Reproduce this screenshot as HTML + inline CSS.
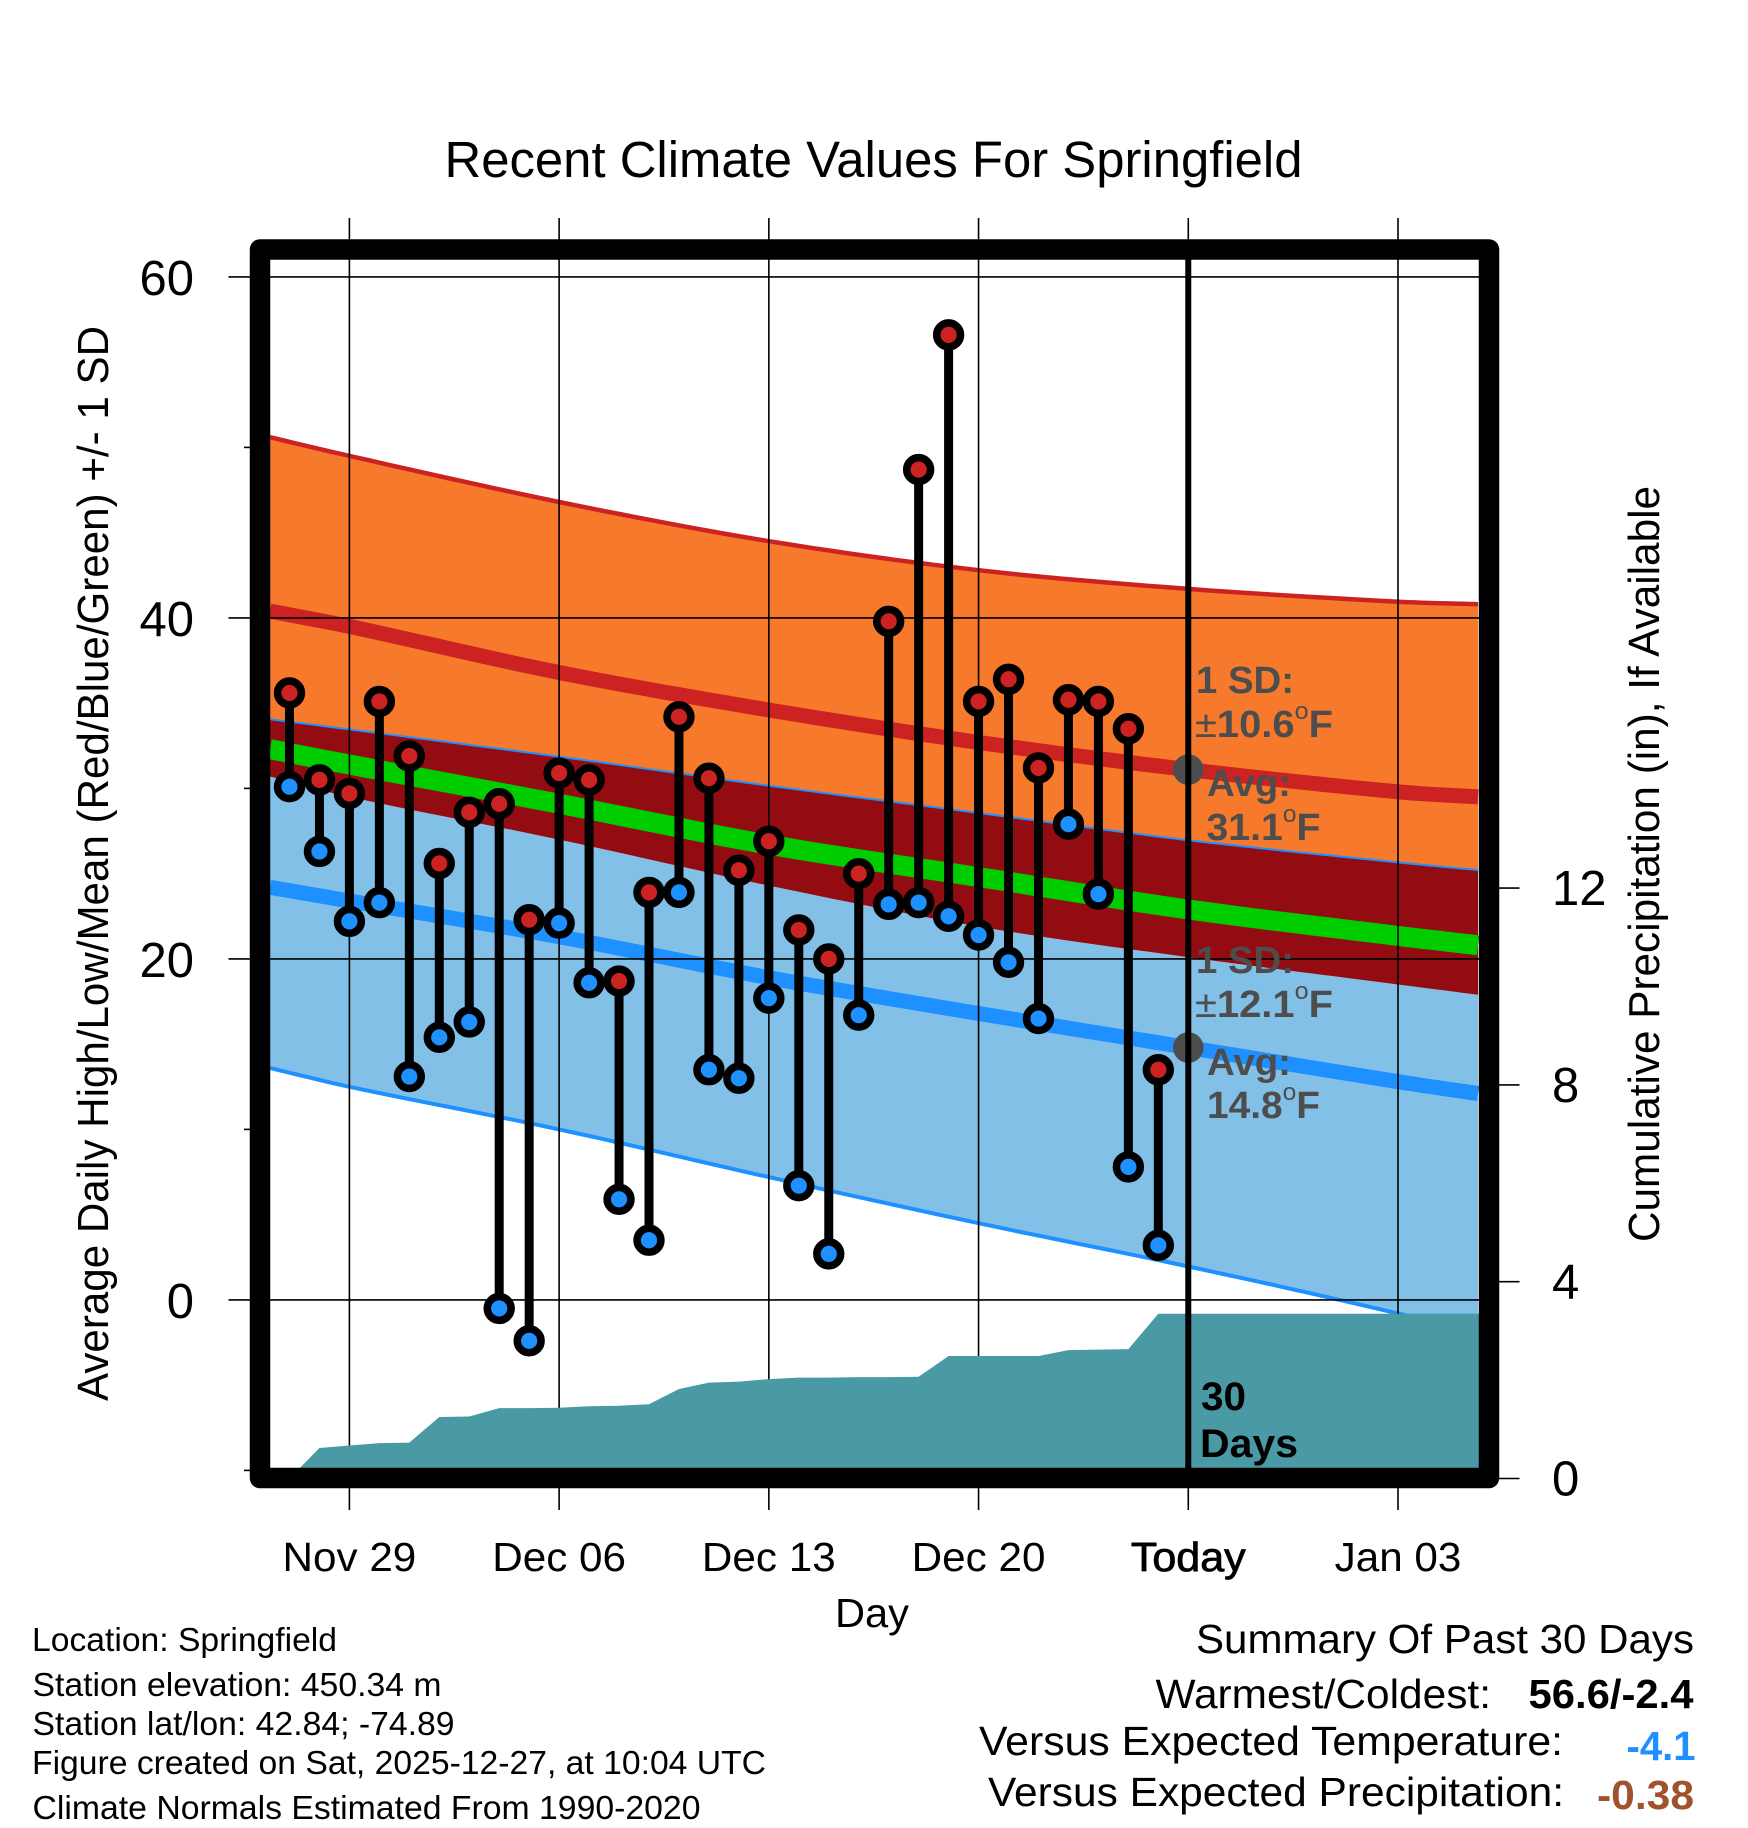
<!DOCTYPE html>
<html lang="en">
<head>
<meta charset="utf-8">
<title>Recent Climate Values For Springfield</title>
<style>
html,body{margin:0;padding:0;background:#fff;}
svg{display:block;font-family:"Liberation Sans",Arial,sans-serif;}
</style>
</head>
<body>
<svg id="chart" xmlns="http://www.w3.org/2000/svg" width="1748" height="1828" viewBox="0 0 1748 1828">
  <defs>
    <clipPath id="plot-clip"><rect x="270" y="259.5" width="1210" height="1210"/></clipPath>
  </defs>
  <rect x="0" y="0" width="1748" height="1828" fill="#fff"/>
  <g id="bands" clip-path="url(#plot-clip)"></g>
  <g id="grid"></g>
  <g id="precip" clip-path="url(#plot-clip)"></g>
  <g id="marks"></g>
  <g id="today"></g>
  <g id="labels"></g>

  <g font-weight="bold" fill="#4d4d4d" font-size="38">
    <text x="1196" y="693" textLength="98" lengthAdjust="spacingAndGlyphs">1 SD:</text>
    <text x="1195" y="737" textLength="138" lengthAdjust="spacingAndGlyphs"><tspan font-weight="normal">±</tspan>10.6<tspan font-size="24" font-weight="normal" dy="-18">o</tspan><tspan dy="18">F</tspan></text>
    <text x="1207" y="796" textLength="84" lengthAdjust="spacingAndGlyphs">Avg:</text>
    <text x="1206.5" y="840" textLength="114" lengthAdjust="spacingAndGlyphs">31.1<tspan font-size="24" font-weight="normal" dy="-18">o</tspan><tspan dy="18">F</tspan></text>
    <text x="1196" y="973" textLength="98" lengthAdjust="spacingAndGlyphs">1 SD:</text>
    <text x="1195" y="1017" textLength="138" lengthAdjust="spacingAndGlyphs"><tspan font-weight="normal">±</tspan>12.1<tspan font-size="24" font-weight="normal" dy="-18">o</tspan><tspan dy="18">F</tspan></text>
    <text x="1207" y="1075" textLength="84" lengthAdjust="spacingAndGlyphs">Avg:</text>
    <text x="1207" y="1118" textLength="113" lengthAdjust="spacingAndGlyphs">14.8<tspan font-size="24" font-weight="normal" dy="-18">o</tspan><tspan dy="18">F</tspan></text>
  </g>

  <g font-weight="bold" font-size="40" fill="#000">
    <text x="1201" y="1410" textLength="45" lengthAdjust="spacingAndGlyphs">30</text>
    <text x="1200" y="1457" textLength="98" lengthAdjust="spacingAndGlyphs">Days</text>
  </g>

  <rect x="260" y="249.5" width="1229" height="1228.5" fill="none" stroke="#000" stroke-width="20.5" stroke-linejoin="round"/>

  <text x="444.5" y="177" font-size="51" textLength="858" lengthAdjust="spacingAndGlyphs">Recent Climate Values For Springfield</text>
  <text transform="rotate(-90 108 863.5)" x="108" y="863.5" text-anchor="middle" font-size="44" textLength="1075" lengthAdjust="spacingAndGlyphs">Average Daily High/Low/Mean (Red/Blue/Green) +/- 1 SD</text>
  <text transform="rotate(-90 1659 864)" x="1659" y="864" text-anchor="middle" font-size="44" textLength="756" lengthAdjust="spacingAndGlyphs">Cumulative Precipitation (in), If Available</text>
  <text x="872" y="1627" text-anchor="middle" font-size="41" textLength="74" lengthAdjust="spacingAndGlyphs">Day</text>

  <g font-size="33" fill="#000">
    <text x="32" y="1651" textLength="305" lengthAdjust="spacingAndGlyphs">Location: Springfield</text>
    <text x="32.5" y="1696" textLength="409" lengthAdjust="spacingAndGlyphs">Station elevation: 450.34 m</text>
    <text x="32.5" y="1735" textLength="422" lengthAdjust="spacingAndGlyphs">Station lat/lon: 42.84; -74.89</text>
    <text x="32" y="1774" textLength="734" lengthAdjust="spacingAndGlyphs">Figure created on Sat, 2025-12-27, at 10:04 UTC</text>
    <text x="32.5" y="1819" textLength="668" lengthAdjust="spacingAndGlyphs">Climate Normals Estimated From 1990-2020</text>
  </g>

  <g font-size="41" fill="#000">
    <text x="1196" y="1653" textLength="498" lengthAdjust="spacingAndGlyphs">Summary Of Past 30 Days</text>
    <text x="1155.5" y="1708" textLength="335.5" lengthAdjust="spacingAndGlyphs">Warmest/Coldest:</text>
    <text x="1528.5" y="1708" font-weight="bold" textLength="165" lengthAdjust="spacingAndGlyphs">56.6/-2.4</text>
    <text x="979" y="1755" textLength="584" lengthAdjust="spacingAndGlyphs">Versus Expected Temperature:</text>
    <text x="1626.5" y="1760" font-weight="bold" fill="#1e90ff" textLength="69" lengthAdjust="spacingAndGlyphs">-4.1</text>
    <text x="988" y="1806" textLength="576" lengthAdjust="spacingAndGlyphs">Versus Expected Precipitation:</text>
    <text x="1597" y="1809" font-weight="bold" fill="#a0522d" textLength="97" lengthAdjust="spacingAndGlyphs">-0.38</text>
  </g>
</svg>
<script>
// Days are counted from Nov 29 (day 0). Today (Dec 27) is day 28.
const dailyHighs = [35.6,30.5,29.7,35.1,31.9,25.6,28.6,29.1,22.3,30.9,30.5,18.7,23.9,34.2,30.6,25.2,26.9,21.7,20.0,25.0,39.8,48.7,56.6,35.1,36.4,31.2,35.2,35.1,33.5,13.5];
const dailyLows = [30.1,26.3,22.2,23.3,13.1,15.4,16.3,-0.5,-2.4,22.1,18.6,5.9,3.5,23.9,13.5,13.0,17.7,6.7,2.7,16.7,23.2,23.3,22.5,21.4,19.8,16.5,27.9,23.8,7.8,3.2];
const firstDataDay = -2;
const precipCumulative = [0,0.62,0.67,0.72,0.73,1.25,1.26,1.43,1.43,1.44,1.47,1.48,1.51,1.82,1.95,1.97,2.02,2.05,2.05,2.06,2.06,2.07,2.49,2.49,2.49,2.49,2.61,2.62,2.63,3.35];
const normalDays = [-2.65,0,7,14,21,28,35,37.67];
const highUpper = [50.6,49.5,46.8,44.5,42.8,41.7,40.95,40.8];
const highAvg = [40.4,39.5,36.8,34.6,32.7,31.1,29.8,29.5];
const highLower = [30.7,29.5,27.0,24.3,21.9,20.1,18.5,17.9];
const meanAvg = [32.3,31.4,29.1,26.7,24.8,22.9,21.35,20.8];
const lowUpper = [34.0,33.4,31.8,30.1,28.5,26.9,25.6,25.15];
const lowAvg = [24.2,23.4,21.3,18.9,16.8,14.8,12.8,12.1];
const lowLower = [13.6,12.5,10.0,7.2,4.5,1.96,-0.8,-2.1];
const xTickDays = [0,7,14,21,28,35];
const xTickLabels = ["Nov 29","Dec 06","Dec 13","Dec 20","Today","Jan 03"];
const yMajorTicks = [60,40,20,0];
const yMinorTicks = [50,30,10,-10];
const precipTicks = [12,8,4,0];
const todayDay = 28;
const todayHighAvg = 31.1;
const todayLowAvg = 14.8;

function xScale(d){ return 349.4 + 29.96 * d; }
function yTemp(t){ return 1299.9 - 17.05 * t; }
function yPrecip(p){ return 1478.5 - 49.2 * p; }

const NS = 'http://www.w3.org/2000/svg';
function mk(parent, tag, attrs){
  const el = document.createElementNS(NS, tag);
  for (const k in attrs) el.setAttribute(k, attrs[k]);
  parent.appendChild(el);
  return el;
}
// Smooth (cubic Hermite) drawing path through the values read at normalDays.
function smoothCurve(days, vals){
  const n = days.length, out = [];
  const slope = function(i){
    if (i === 0) return (vals[1]-vals[0])/(days[1]-days[0]);
    if (i === n-1) return (vals[n-1]-vals[n-2])/(days[n-1]-days[n-2]);
    return (vals[i+1]-vals[i-1])/(days[i+1]-days[i-1]);
  };
  for (let i = 0; i < n-1; i++){
    const h = days[i+1]-days[i], m0 = slope(i), m1 = slope(i+1);
    const steps = 10;
    for (let s = 0; s < steps; s++){
      const u = s/steps, u2 = u*u, u3 = u2*u;
      const v = (2*u3-3*u2+1)*vals[i] + (u3-2*u2+u)*h*m0 + (-2*u3+3*u2)*vals[i+1] + (u3-u2)*h*m1;
      out.push([days[i]+u*h, v]);
    }
  }
  out.push([days[n-1], vals[n-1]]);
  return out;
}
function toPts(curve){
  return curve.map(function(p){ return xScale(p[0]).toFixed(1)+','+yTemp(p[1]).toFixed(1); }).join(' ');
}
function linePts(days, vals){
  return toPts(smoothCurve(days, vals));
}
function bandPts(days, up, lo){
  return toPts(smoothCurve(days, up)) + ' ' + toPts(smoothCurve(days, lo).reverse());
}

const bands = document.getElementById('bands');
let el;
el = mk(bands,'polygon',{points:bandPts(normalDays,highUpper,highLower),fill:'#f7792c'});


el = mk(bands,'polyline',{points:linePts(normalDays,highUpper),fill:'none',stroke:'#cd2222','stroke-width':4.5});


el = mk(bands,'polyline',{points:linePts(normalDays,lowUpper),fill:'none',stroke:'#1e90ff','stroke-width':4});


el = mk(bands,'polygon',{points:bandPts(normalDays,highLower,lowLower),fill:'#83c0e8'});


el = mk(bands,'polygon',{points:bandPts(normalDays,lowUpper,highLower),fill:'#920c12'});


el = mk(bands,'polyline',{points:linePts(normalDays,lowLower),fill:'none',stroke:'#1e90ff','stroke-width':4});


el = mk(bands,'polyline',{points:linePts(normalDays,highAvg),fill:'none',stroke:'#cd2222','stroke-width':15});


el = mk(bands,'polyline',{points:linePts(normalDays,meanAvg),fill:'none',stroke:'#00cd00','stroke-width':20});


el = mk(bands,'polyline',{points:linePts(normalDays,lowAvg),fill:'none',stroke:'#1e90ff','stroke-width':15});



const grid = document.getElementById('grid');
xTickDays.forEach(function(d){
  const g = mk(grid,'line',{x1:xScale(d),x2:xScale(d),y1:218,y2:1510,stroke:'#000','stroke-width':1.6});
  
  
});
yMajorTicks.forEach(function(t){
  const g = mk(grid,'line',{x1:228.5,x2:1480,y1:yTemp(t),y2:yTemp(t),stroke:'#000','stroke-width':1.6});
  
  
});
yMinorTicks.forEach(function(t){
  const g = mk(grid,'line',{x1:244,x2:255,y1:yTemp(t),y2:yTemp(t),stroke:'#000','stroke-width':1.6});
  
  
});
precipTicks.forEach(function(p){
  const g = mk(grid,'line',{x1:1495,x2:1519.5,y1:yPrecip(p),y2:yPrecip(p),stroke:'#000','stroke-width':1.6});
  
  
});

const precip = document.getElementById('precip');
const precipLast = precipCumulative[precipCumulative.length-1];
let precipPts = xScale(firstDataDay).toFixed(1)+','+yPrecip(0);
precipCumulative.forEach(function(p,i){
  precipPts += ' ' + xScale(firstDataDay+i).toFixed(1)+','+yPrecip(p).toFixed(1);
});
precipPts += ' ' + xScale(38).toFixed(1)+','+yPrecip(precipLast).toFixed(1)+' '+xScale(38).toFixed(1)+','+yPrecip(0);
el = mk(precip,'polygon',{points:precipPts,fill:'#4a9aa5'});



const marks = document.getElementById('marks');
dailyHighs.forEach(function(h,i){
  const x = xScale(firstDataDay+i);
  const l = dailyLows[i];
  const s = mk(marks,'line',{x1:x,x2:x,y1:yTemp(h),y2:yTemp(l),stroke:'#000','stroke-width':9});
  
  
});
dailyHighs.forEach(function(h,i){
  const x = xScale(firstDataDay+i);
  const lo = mk(marks,'circle',{cx:x,cy:yTemp(dailyLows[i]),r:11.9,fill:'#1e90ff',stroke:'#000','stroke-width':7.6});
  
  
  const hi = mk(marks,'circle',{cx:x,cy:yTemp(h),r:11.9,fill:'#cd2222',stroke:'#000','stroke-width':7.6});
  
  
});
el = mk(marks,'circle',{cx:xScale(todayDay),cy:yTemp(todayHighAvg),r:15.3,fill:'#4d4d4d'});


el = mk(marks,'circle',{cx:xScale(todayDay),cy:yTemp(todayLowAvg),r:15.3,fill:'#4d4d4d'});



const today = document.getElementById('today');
el = mk(today,'line',{x1:xScale(todayDay),x2:xScale(todayDay),y1:255,y2:1472,stroke:'#000','stroke-width':6});



const labels = document.getElementById('labels');
xTickDays.forEach(function(d,i){
  const t = mk(labels,'text',{x:xScale(d),y:1571,'text-anchor':'middle','font-size':41});
  
  
  t.textContent = xTickLabels[i];
  t.setAttribute('textLength', (t.getComputedTextLength()*(d === todayDay ? 1.05 : 1.03)).toFixed(1));
  t.setAttribute('lengthAdjust', 'spacingAndGlyphs');
  if (d === todayDay) { t.setAttribute('stroke', '#000'); t.setAttribute('stroke-width', '0.8'); }
});
yMajorTicks.forEach(function(v){
  const t = mk(labels,'text',{x:194,y:yTemp(v)+18,'text-anchor':'end','font-size':49});
  
  
  t.textContent = String(v);
});
precipTicks.forEach(function(v){
  const t = mk(labels,'text',{x:1552,y:yPrecip(v)+17,'text-anchor':'start','font-size':49});
  
  
  t.textContent = String(v);
});
</script>
</body>
</html>
